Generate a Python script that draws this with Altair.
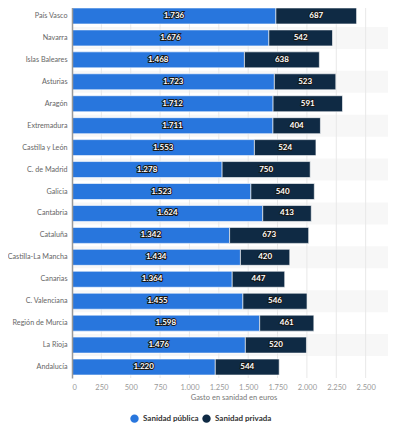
import altair as alt
import pandas as pd

regions = ["País Vasco", "Navarra", "Islas Baleares", "Asturias", "Aragón",
           "Extremadura", "Castilla y León", "C. de Madrid", "Galicia", "Cantabria",
           "Cataluña", "Castilla-La Mancha", "Canarias", "C. Valenciana",
           "Región de Murcia", "La Rioja", "Andalucía"]
publica = [1736, 1676, 1468, 1723, 1712, 1711, 1553, 1278, 1523, 1624,
           1342, 1434, 1364, 1455, 1598, 1476, 1220]
privada = [687, 542, 638, 523, 591, 404, 524, 750, 540, 413,
           673, 420, 447, 546, 461, 520, 544]
series = ["Sanidad pública", "Sanidad privada"]
colors = ["#2876dd", "#0f2a44"]
ticks = [0, 250, 500, 750, 1000, 1250, 1500, 1750, 2000, 2250, 2500]

W, H = 323, 373
FONT = "Lato"


def es(n):
    return f"{n:,}".replace(",", ".")


rows = []
for i, r in enumerate(regions):
    for k, (s, v) in enumerate(zip(series, [publica[i], privada[i]])):
        rows.append({"region": r, "serie": s, "value": v, "orden": k, "label": es(v)})
long = pd.DataFrame(rows)
bg_df = pd.DataFrame({"region": regions, "idx": list(range(len(regions)))})
tick_df = pd.DataFrame({"t": ticks})

xscale = alt.Scale(domain=[0, 2750], nice=False)
yscale = alt.Scale(domain=regions, paddingInner=0, paddingOuter=0)

x_axis = alt.Axis(values=ticks, title="Gasto en sanidad en euros", grid=False,
                  ticks=False, domain=False, labelFontSize=7.5, labelColor="#999999",
                  labelFont=FONT, labelPadding=5, labelOverlap=False,
                  titleFont=FONT, titleFontSize=7.5,
                  titleColor="#777777", titleFontWeight="normal", titlePadding=3,
                  labelExpr="replace(format(datum.value, ','), ',', '.')")
y_axis = alt.Axis(title=None, ticks=False, labelPadding=5, labelFontSize=7.2,
                  labelColor="#666666", labelFont=FONT, domain=True,
                  domainColor="#999999", domainWidth=1.5, labelLimit=200)

bg = alt.Chart(bg_df).transform_filter("datum.idx % 2 == 1").mark_rect(color="#f7f7f7").encode(
    y=alt.Y("region:N", scale=yscale, sort=regions, axis=y_axis),
    x=alt.value(0), x2=alt.value(W),
)

grid = alt.Chart(tick_df).mark_rule(color="#e8e8e8", strokeWidth=1).encode(
    x=alt.X("t:Q", scale=xscale, axis=x_axis),
    opacity=alt.condition("datum.t > 0", alt.value(1), alt.value(0)),
)

bars = alt.Chart(long).mark_bar(size=16, stroke="white", strokeWidth=0.6).encode(
    y=alt.Y("region:N", scale=yscale, sort=regions, axis=y_axis),
    x=alt.X("value:Q", scale=xscale, stack="zero", axis=x_axis),
    color=alt.Color("serie:N", scale=alt.Scale(domain=series, range=colors),
                    legend=alt.Legend(title=None, orient="none", legendX=58, legendY=409,
                                      direction="horizontal", symbolType="circle",
                                      symbolSize=70, labelFontSize=8, labelFont=FONT,
                                      labelFontWeight="bold", labelColor="#333333",
                                      labelOffset=4, columnPadding=3, symbolStrokeWidth=0)),
    order=alt.Order("orden:Q"),
)

base_txt = alt.Chart(long).transform_stack(
    stack="value", groupby=["region"], as_=["v0", "v1"], sort=[alt.SortField("orden")]
).transform_calculate(mid="(datum.v0 + datum.v1) / 2")

txt_shadow = base_txt.mark_text(fontSize=8, fontWeight="bold", font=FONT, color="#1a1a1a",
                                stroke="#1a1a1a", strokeWidth=2, baseline="middle").encode(
    y=alt.Y("region:N", scale=yscale, sort=regions, axis=y_axis),
    x=alt.X("mid:Q", scale=xscale, axis=x_axis),
    text="label:N",
)
txt = base_txt.mark_text(fontSize=8, fontWeight="bold", font=FONT, color="white",
                         baseline="middle").encode(
    y=alt.Y("region:N", scale=yscale, sort=regions, axis=y_axis),
    x=alt.X("mid:Q", scale=xscale, axis=x_axis),
    text="label:N",
)

chart = alt.layer(bg, grid, bars, txt_shadow, txt).properties(
    width=W, height=H,
    autosize=alt.AutoSizeParams(type="none"),
    padding={"left": 64, "top": -3, "right": -7, "bottom": 46},
).configure_view(stroke=None).configure_axisX(labelOverlap=False)

chart.save("out.html", embed_options={"renderer": "svg", "actions": False})
